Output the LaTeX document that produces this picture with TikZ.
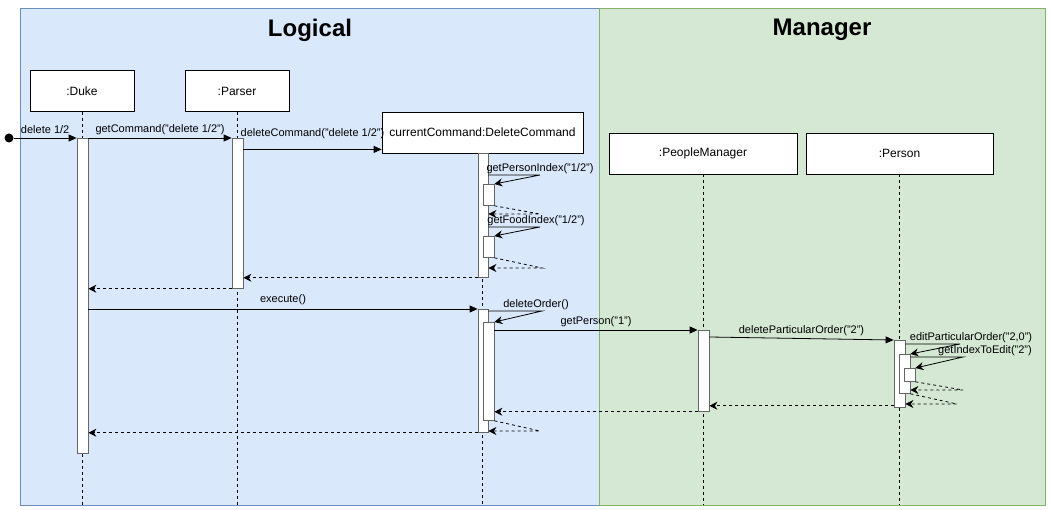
\documentclass[tikz,border=0pt]{standalone}
\usepackage{fontspec}
\setmainfont{Liberation Sans}
\usetikzlibrary{arrows.meta}
\definecolor{logicfill}{HTML}{DAE8FC}
\definecolor{logicline}{HTML}{6C8EBF}
\definecolor{mgrfill}{HTML}{D5E8D4}
\definecolor{mgrline}{HTML}{82B366}

\begin{document}
\begin{tikzpicture}[x=1pt,y=-1pt,
  head/.style={draw=black, fill=white, minimum height=41pt, inner sep=2pt, line width=0.8pt, font=\fontsize{12}{14}\selectfont},
  act/.style={draw=black!60, fill=white, minimum width=11pt, anchor=north, inner sep=0pt, line width=0.8pt},
  life/.style={black, line width=0.8pt, dash pattern=on 3pt off 3pt},
  call/.style={-{Triangle[length=8pt,width=7pt]}, line width=0.8pt},
  selfcall/.style={-{Stealth[length=8pt,width=8pt]}, line width=0.8pt},
  ret/.style={-{Stealth[length=8pt,width=8pt]}, black, line width=0.8pt, dash pattern=on 3pt off 3pt},
  lbl/.style={font=\fontsize{11}{13}\selectfont, inner sep=1pt},
  title/.style={font=\fontsize{24}{28}\selectfont\bfseries}]
\useasboundingbox (0,0) rectangle (1051,510);

% frames
\filldraw[fill=logicfill, draw=logicline, line width=1pt] (20,9) rectangle (599,505);
\filldraw[fill=mgrfill, draw=mgrline, line width=1pt] (599,9) rectangle (1045,505);
\node[title] (logical) at (310,30) {Logical};
\node[title] (manager) at (822,30) {Manager};

% lifeline heads
\node[head, minimum width=104pt] (duke) at (82,91) {:Duke};
\node[head, minimum width=104pt] (parser) at (237,91) {:Parser};
\node[head, minimum width=201pt] (delcmd) at (482.5,132.5) {currentCommand:DeleteCommand};
\node[head, minimum width=188pt] (pm) at (703,153.5) {:PeopleManager};
\node[head, minimum width=187pt] (person) at (899.5,153.5) {:Person};

\coordinate (bottom) at (0,505);
\draw[life] (duke.south) -- (duke.south |- bottom);
\draw[life] (parser.south) -- (parser.south |- bottom);
\draw[life] (delcmd.south) -- (delcmd.south |- bottom);
\draw[life] (pm.south) -- (pm.south |- bottom);
\draw[life] (person.south) -- (person.south |- bottom);

% activations
\node[act, minimum height=315pt] (dukeact) at (82.5,138) {};
\node[act, minimum height=150pt] (parseract) at (237.5,138) {};
\node[act, minimum width=10pt, minimum height=124pt] (delact1) at (483,153) {};
\node[act, minimum height=21pt] (delsub1) at (488.5,184) {};
\node[act, minimum height=21pt] (delsub2) at (488.5,236) {};
\node[act, minimum width=10pt, minimum height=123pt] (delact2) at (483,309) {};
\node[act, minimum height=98pt] (delsub3) at (488.5,322) {};
\node[act, minimum height=81pt] (pmact) at (703.5,330) {};
\node[act, minimum height=67pt] (personact) at (899.5,340) {};
\node[act, minimum height=39pt] (personsub1) at (904.5,354) {};
\node[act, minimum height=13pt] (personsub2) at (909.5,368) {};

% found message
\node[circle, fill=black, inner sep=0pt, minimum size=9pt] (found) at (9,138) {};
\draw[call] (found) -- (dukeact.north west) node[lbl, midway, above=3pt] {delete 1/2};

% messages
\draw[call] (dukeact.north east) -- (parseract.north west) node[lbl, midway, above=2pt] {getCommand("delete 1/2")};
\draw[call] (parseract.east |- delcmd.south) ++(0,-4) coordinate (dc) -- (delcmd.west |- dc) node[lbl, midway, above=9pt] {deleteCommand("delete 1/2")};

\coordinate (pi) at (540,175);
\draw[selfcall] (delact1.east |- pi) -- (pi) -- (delsub1.north east);
\node[lbl, above] (pilbl) at (pi) {getPersonIndex("1/2")};
\coordinate (pr) at (540,214);
\draw[ret] (delsub1.south east) -- (pr) -- (delact1.east |- pr);

\coordinate (fi) at (540,227);
\draw[selfcall] (delact1.east |- fi) -- (fi) -- (delsub2.north east);
\node[lbl, above, xshift=-4pt] (filbl) at (fi) {getFoodIndex("1/2")};
\coordinate (fr) at (542,268);
\draw[ret] (delsub2.south east) -- (fr) -- (delact1.east |- fr);

\draw[ret] (delact1.south west) -- (parseract.east |- delact1.south);
\draw[ret] (parseract.south west) -- (dukeact.east |- parseract.south);

\draw[call] (dukeact.east |- delact2.north) -- (delact2.north west) node[lbl, midway, above=3pt] {execute()};

\coordinate (do) at (542,311);
\draw[selfcall] (delact2.east |- do) -- (do) -- (delsub3.north east);
\node[lbl, above, xshift=-6pt] (dolbl) at (do) {deleteOrder()};

\draw[call] (delsub3.east |- pmact.north) -- (pmact.north west) node[lbl, midway, above=2pt] {getPerson("1")};
\draw[call] (pmact.east |- personact.north) ++(0,-3) coordinate (dp) -- (personact.north west) node[lbl, midway, above=1pt] {deleteParticularOrder("2")};

\coordinate (ep) at (960,344);
\draw[selfcall] (personact.east |- ep) -- (ep) -- (personsub1.north east);
\node[lbl, above, xshift=11pt] (eplbl) at (ep) {editParticularOrder("2,0")};

\coordinate (gi) at (963,357);
\draw[selfcall] (personsub1.east |- gi) -- (gi) -- (personsub2.north east);
\node[lbl, above, xshift=22pt] (gilbl) at (gi) {getIndexToEdit("2")};

\coordinate (gr) at (963,390);
\draw[ret] (personsub2.south east) -- (gr) -- (personsub1.east |- gr);
\coordinate (er) at (957,404);
\draw[ret] (personsub1.south east) -- (er) -- (personact.east |- er);

\draw[ret] (personact.south west) ++(0,-2) coordinate (pr2) -- (pmact.east |- pr2);
\draw[ret] (pmact.south west) -- (delsub3.east |- pmact.south);

\coordinate (dr) at (540,431);
\draw[ret] (delsub3.south east) -- (dr) -- (delact2.east |- dr);
\draw[ret] (delact2.south west) -- (dukeact.east |- delact2.south);
\end{tikzpicture}
\end{document}
